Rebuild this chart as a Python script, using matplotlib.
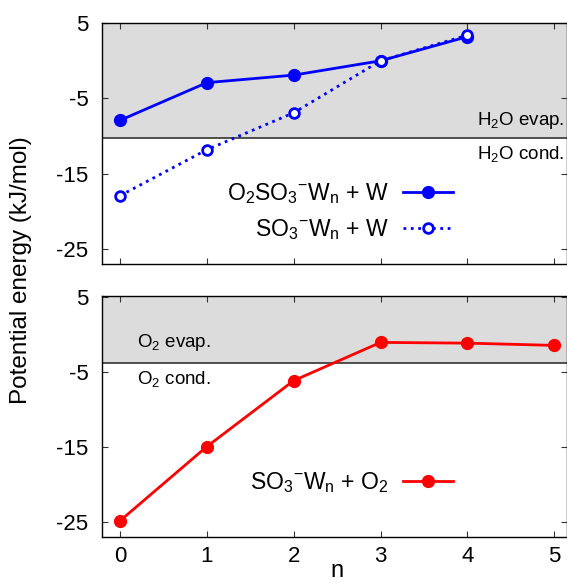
import numpy as np
import matplotlib
matplotlib.use('Agg')
import matplotlib.pyplot as plt

plt.rcParams['font.family'] = ['Liberation Sans', 'DejaVu Sans']
plt.rcParams['mathtext.fontset'] = 'custom'
plt.rcParams['mathtext.rm'] = 'Liberation Sans'
plt.rcParams['mathtext.default'] = 'regular'
plt.rcParams['axes.unicode_minus'] = False

# data
n_top = [0, 1, 2, 3, 4]
e_o2so3_w = [-7.9, -2.9, -1.9, 0.0, 3.2]
e_so3_w = [-17.9, -11.8, -6.9, 0.0, 3.4]
n_bot = [0, 1, 2, 3, 4, 5]
e_so3_o2 = [-24.9, -15.0, -6.2, -1.1, -1.2, -1.5]
h2o_level = -10.2
o2_level = -3.8
yticks = [5, -5, -15, -25]

fig = plt.figure(figsize=(5.67, 5.83), dpi=100)
ax1 = fig.add_axes([0.1804, 0.548, 0.819, 0.413])
ax2 = fig.add_axes([0.1804, 0.0784, 0.819, 0.4144])

grey = '#dcdcdc'
for ax, lev in ((ax1, h2o_level), (ax2, o2_level)):
    ax.axhspan(lev, 10, color=grey, zorder=0, lw=0)
    ax.axhline(lev, color='#333333', lw=1.2, zorder=1)
    ax.set_xlim(-0.204, 5.143)
    ax.set_xticks(range(6))
    ax.set_yticks(yticks)
    ax.tick_params(direction='in', top=True, right=True, labelsize=16,
                   length=4.5, width=0.8, color='#333333')
    ax.tick_params(axis='y', pad=10)
    ax.tick_params(axis='x', pad=6)
    for s in ax.spines.values():
        s.set_linewidth(1.0)

ax1.set_ylim(-26.9, 5.05)
ax2.set_ylim(-27.1, 5.13)
ax1.tick_params(labelbottom=False)

ax1.plot(n_top, e_o2so3_w, '-', color='blue', lw=2, marker='o', ms=8.5,
         label=r'O$_2$SO$_3$$^{-}$W$_n$ + W', zorder=3)
ax1.plot(n_top, e_so3_w, ':', color='blue', lw=2, marker='o', ms=7, mfc='white',
         mew=2, label=r'SO$_3$$^{-}$W$_n$ + W', zorder=3)
ax1.legend(loc='center right', bbox_to_anchor=(0.78, 0.215), frameon=False,
           markerfirst=False, fontsize=16.5, handlelength=2.2, labelspacing=0.5,
           handletextpad=0.6, borderpad=0)

ax2.plot(n_bot, e_so3_o2, '-', color='red', lw=2, marker='o', ms=8.5,
         label=r'SO$_3$$^{-}$W$_n$ + O$_2$', zorder=3)
ax2.legend(loc='center right', bbox_to_anchor=(0.78, 0.225), frameon=False,
           markerfirst=False, fontsize=16.5, handlelength=2.2,
           handletextpad=0.6, borderpad=0)

ax1.text(5.12, h2o_level + 0.9, r'H$_2$O evap.', ha='right', va='bottom', fontsize=13.5)
ax1.text(5.12, h2o_level - 0.9, r'H$_2$O cond.', ha='right', va='top', fontsize=13.5)
ax2.text(0.2, o2_level + 1.3, r'O$_2$ evap.', ha='left', va='bottom', fontsize=13.5)
ax2.text(0.2, o2_level - 0.8, r'O$_2$ cond.', ha='left', va='top', fontsize=13.5)

fig.text(0.1804 + 0.819 * (0.204 / 5.347) + 0.819 * 2.5 / 5.347, 0.002, 'n',
         ha='center', va='bottom', fontsize=17)
fig.text(0.037, 0.537, 'Potential energy (kJ/mol)', rotation=90, ha='center',
         va='center', fontsize=17.5)

fig.savefig('out.png', dpi=100)
